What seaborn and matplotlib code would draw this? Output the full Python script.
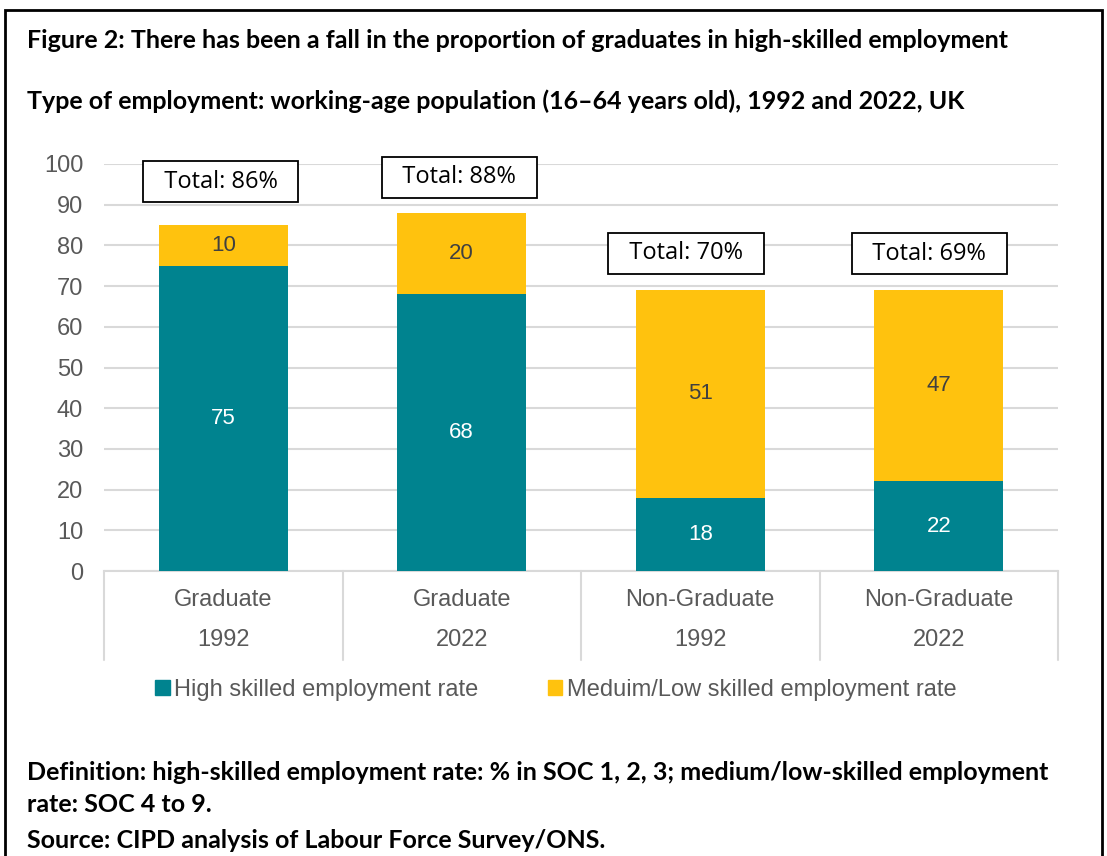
import matplotlib
matplotlib.use("Agg")
import matplotlib.pyplot as plt
import matplotlib.patches as mpatches
import matplotlib.transforms as mtransforms
import seaborn as sns
import pandas as pd

# Data
groups = ["Graduate", "Graduate", "Non-Graduate", "Non-Graduate"]
years = ["1992", "2022", "1992", "2022"]
high_skilled = [75, 68, 18, 22]
medium_low = [10, 20, 51, 47]
total_labels = [86, 88, 70, 69]
series_names = ["High skilled employment rate", "Meduim/Low skilled employment rate"]

TEAL = "#00838F"
YELLOW = "#FFC20E"
GRID = "#D9D9D9"
TICK = "#595959"

df = pd.DataFrame({
    "key": [f"{g} {y}" for g, y in zip(groups, years)],
    "high": high_skilled,
    "medium": medium_low,
})
df["stack_top"] = df["high"] + df["medium"]

sns.set_theme(style="white")
plt.rcParams["font.family"] = ["Liberation Sans", "DejaVu Sans"]

fig = plt.figure(figsize=(11.07, 8.56), dpi=100)
ax = fig.add_axes([104 / 1107, 1 - 571 / 856, (1058 - 104) / 1107, (571 - 164) / 856])

order = list(df["key"])
sns.barplot(data=df, x="key", y="stack_top", order=order, color=YELLOW,
            width=0.54, saturation=1, ax=ax, zorder=2)
sns.barplot(data=df, x="key", y="high", order=order, color=TEAL,
            width=0.54, saturation=1, ax=ax, zorder=3)
for p in ax.patches:
    p.set_edgecolor("none")

ax.set_ylim(0, 100)
ax.set_xlim(-0.5, len(order) - 0.5)
ax.set_yticks(range(0, 101, 10))
ax.tick_params(axis="y", labelsize=17, labelcolor=TICK, length=0, pad=15)
ax.set_xticks([])
ax.set_xlabel("")
ax.set_ylabel("")
ax.yaxis.grid(True, color=GRID, linewidth=1.5)
ax.set_axisbelow(True)
for s in ["left", "right", "top"]:
    ax.spines[s].set_visible(False)
ax.spines["bottom"].set_color(GRID)
ax.spines["bottom"].set_linewidth(1.5)

# Segment value labels
for i, (h, m) in enumerate(zip(high_skilled, medium_low)):
    ax.text(i, h / 2, f"{h}", ha="center", va="center", color="white", fontsize=16, zorder=5)
    ax.text(i, h + m / 2, f"{m}", ha="center", va="center", color="#404040", fontsize=16, zorder=5)

# Total call-out boxes
box_pos = [(-0.01, 95.6), (-0.01, 96.8), (-0.06, 78.1), (-0.04, 77.9)]
for i, (t, (dx, yy)) in enumerate(zip(total_labels, box_pos)):
    ax.text(i + dx, yy, f"  Total: {t}%  ", ha="center", va="center", fontsize=17,
            family=["Open Sans", "DejaVu Sans"], color="black", zorder=6,
            bbox=dict(boxstyle="square,pad=0.36", facecolor="white", edgecolor="black", linewidth=1.3))

# Category axis: separators and two-level labels
trans = mtransforms.blended_transform_factory(ax.transData, ax.transAxes)
sep_bottom = -(660 - 571) / (571 - 164)
for b in [-0.5 + k for k in range(len(order) + 1)]:
    ax.plot([b, b], [0, sep_bottom], transform=trans, color=GRID, linewidth=1.5, clip_on=False)
for i, (g, y) in enumerate(zip(groups, years)):
    ax.text(i, -(600 - 571) / (571 - 164), g, transform=trans, ha="center", va="center",
            fontsize=17, color=TICK)
    ax.text(i, -(640 - 571) / (571 - 164), y, transform=trans, ha="center", va="center",
            fontsize=17, color=TICK)

# Legend
handles = [mpatches.Patch(color=TEAL, label=series_names[0]),
           mpatches.Patch(color=YELLOW, label=series_names[1])]
fig.legend(handles=handles, loc="center", bbox_to_anchor=(556 / 1107, 1 - 690 / 856), ncol=2,
           frameon=False, fontsize=17, labelcolor=TICK, handlelength=0.6, handleheight=0.6,
           handletextpad=0.2, columnspacing=2.95)

# Titles and notes
tfont = dict(family=["Lato", "DejaVu Sans"], fontweight="bold", fontsize=18, color="black",
             ha="left", va="center")
fig.text(27 / 1107, 1 - 40 / 856, "Figure 2: There has been a fall in the proportion of graduates in high-skilled employment", **tfont)
fig.text(27 / 1107, 1 - 101 / 856, "Type of employment: working-age population (16\u201364 years old), 1992 and 2022, UK", **tfont)
fig.text(27 / 1107, 1 - 773 / 856, "Definition: high-skilled employment rate: % in SOC 1, 2, 3; medium/low-skilled employment", **tfont)
fig.text(27 / 1107, 1 - 805 / 856, "rate: SOC 4 to 9.", **tfont)
fig.text(27 / 1107, 1 - 840 / 856, "Source: CIPD analysis of Labour Force Survey/ONS.", **tfont)

# Outer frame
frame = mpatches.Rectangle((5 / 1107, -0.05), (1102 - 5) / 1107, 1.05 - 10 / 856,
                           transform=fig.transFigure, fill=False, edgecolor="black",
                           linewidth=2, clip_on=False)
fig.patches.append(frame)

fig.savefig("out.png", dpi=100)
